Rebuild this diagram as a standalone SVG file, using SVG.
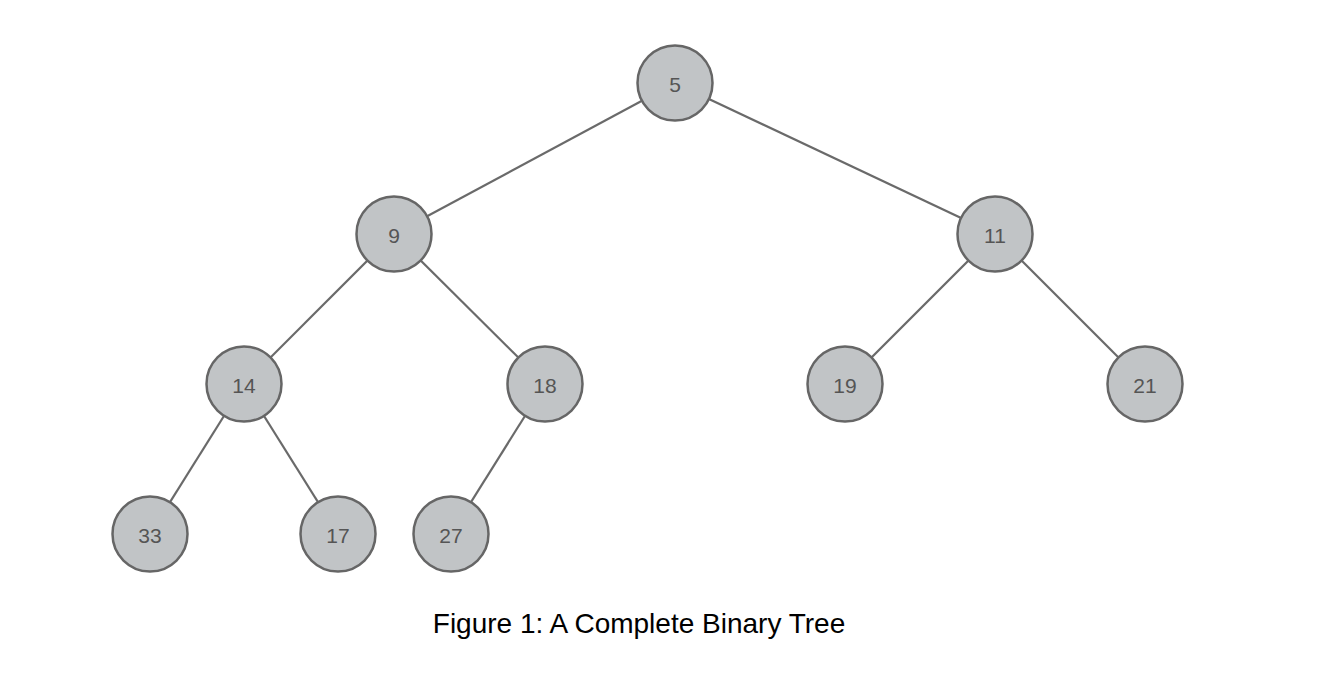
<svg xmlns="http://www.w3.org/2000/svg" width="1344" height="674" viewBox="0 0 1344 674">
<style>
.n circle{fill:#c1c4c6;stroke:#666;stroke-width:2.5}
.n text{font-family:"Liberation Sans","DejaVu Sans",sans-serif;font-size:21px;fill:#555;text-anchor:middle;dominant-baseline:central}
#edges line{stroke:#6a6a6a;stroke-width:2.2}
.cap{font-family:"Liberation Sans",Arial,sans-serif;font-size:28px;fill:#000;text-anchor:middle}
</style>
<rect width="1344" height="674" fill="#fff"/>
<g id="edges">
<line x1="675" y1="83" x2="394" y2="234"/>
<line x1="675" y1="83" x2="995" y2="234"/>
<line x1="394" y1="234" x2="244" y2="384"/>
<line x1="394" y1="234" x2="545" y2="384"/>
<line x1="995" y1="234" x2="845" y2="384"/>
<line x1="995" y1="234" x2="1145" y2="384"/>
<line x1="244" y1="384" x2="150" y2="534"/>
<line x1="244" y1="384" x2="338" y2="534"/>
<line x1="545" y1="384" x2="451" y2="534"/>
</g>
<g id="n5" class="n"><circle cx="675" cy="83" r="37.5"/><text x="675" y="84">5</text></g>
<g id="n9" class="n"><circle cx="394" cy="234" r="37.5"/><text x="394" y="235">9</text></g>
<g id="n11" class="n"><circle cx="995" cy="234" r="37.5"/><text x="995" y="235">11</text></g>
<g id="n14" class="n"><circle cx="244" cy="384" r="37.5"/><text x="244" y="385">14</text></g>
<g id="n18" class="n"><circle cx="545" cy="384" r="37.5"/><text x="545" y="385">18</text></g>
<g id="n19" class="n"><circle cx="845" cy="384" r="37.5"/><text x="845" y="385">19</text></g>
<g id="n21" class="n"><circle cx="1145" cy="384" r="37.5"/><text x="1145" y="385">21</text></g>
<g id="n33" class="n"><circle cx="150" cy="534" r="37.5"/><text x="150" y="535">33</text></g>
<g id="n17" class="n"><circle cx="338" cy="534" r="37.5"/><text x="338" y="535">17</text></g>
<g id="n27" class="n"><circle cx="451" cy="534" r="37.5"/><text x="451" y="535">27</text></g>
<text class="cap" x="639" y="633">Figure 1: A Complete Binary Tree</text>
</svg>
